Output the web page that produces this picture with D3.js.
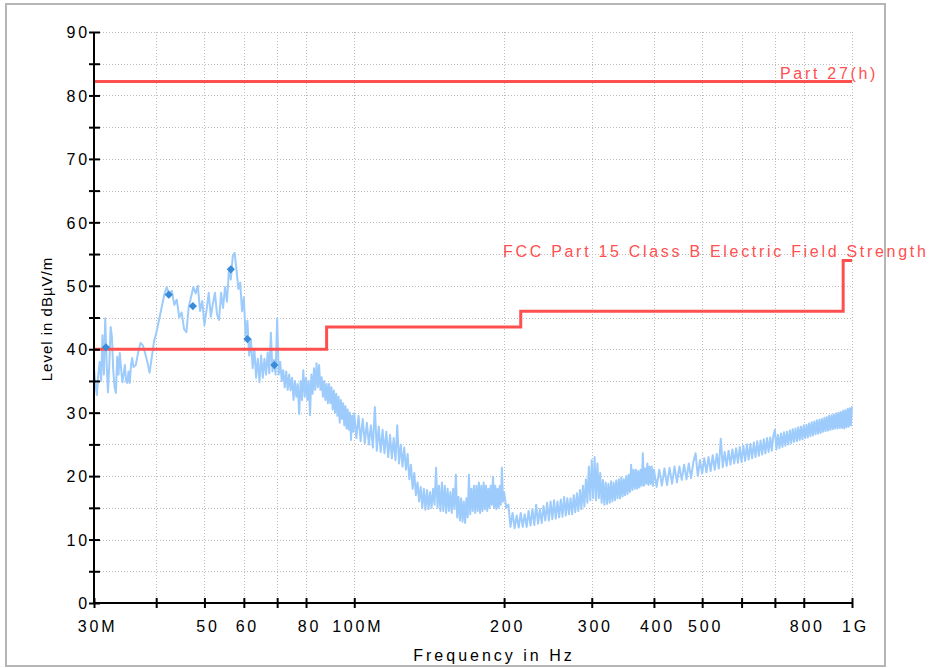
<!DOCTYPE html>
<html>
<head>
<meta charset="utf-8">
<script src="https://cdn.jsdelivr.net/npm/d3@7"></script>
<style>
  html, body { margin: 0; padding: 0; background: #ffffff; }
  svg { display: block; font-family: "Liberation Sans", Arial, Helvetica, sans-serif; }
</style>
</head>
<body>
<svg id="chart" width="932" height="668"></svg>
<script>
// ---- Measured field strength sweep (MHz, dBµV/m) ----
const traceFreq = [
  // 30 - 60 MHz
  30.0,30.2,30.4,30.6,30.8,31.0,31.2,31.4,31.6,31.8,
  32.0,32.2,32.4,32.6,32.8,33.0,33.2,33.4,33.6,33.8,
  34.0,34.2,34.4,34.6,34.8,35.0,35.2,35.4,35.6,35.8,
  36.0,36.4,36.8,37.2,37.6,38.0,38.4,38.8,39.2,39.6,
  40.0,40.5,41.0,41.5,42.0,42.5,43.0,43.5,44.0,44.5,
  45.0,45.5,46.0,46.5,47.0,47.5,48.0,48.5,49.0,49.5,
  50.0,50.5,51.0,51.5,52.0,52.5,53.0,53.5,54.0,54.5,
  55.0,55.5,56.0,56.5,57.0,57.5,58.0,58.5,59.0,59.5,
  // 60 - 100 MHz
  60,60.5,61,61.5,62,62.5,63,63.5,64,64.5,
  65,65.5,66,66.5,67,67.5,68,68.5,69,69.5,
  70,70.5,71,71.5,72,72.5,73,73.5,74,74.5,
  75,75.5,76,76.5,77,77.5,78,78.5,79,79.5,
  80,80.5,81,81.5,82,82.5,83,83.5,84,84.5,
  85,85.5,86,86.5,87,87.5,88,88.5,89,89.5,
  90,90.5,91,91.5,92,92.5,93,93.5,94,94.5,
  95,95.5,96,96.5,97,97.5,98,98.5,99,99.5,
  // 100 - 200 MHz
  100,101,102,103,104,105,106,107,108,109,
  110,111,112,113,114,115,116,117,118,119,
  120,121,122,123,124,125,126,127,128,129,
  130,131,132,133,134,135,136,137,138,139,
  140,141,142,143,144,145,146,147,148,149,
  150,151,152,153,154,155,156,157,158,159,
  160,161,162,163,164,165,166,167,168,169,
  170,171,172,173,174,175,176,177,178,179,
  180,181,182,183,184,185,186,187,188,189,
  190,191,192,193,194,195,196,197,198,199,
  // 200 - 400 MHz
  200,202,204,206,208,210,212,214,216,218,
  220,222,224,226,228,230,232,234,236,238,
  240,242,244,246,248,250,252,254,256,258,
  260,262,264,266,268,270,272,274,276,278,
  280,282,284,286,288,290,292,294,296,298,
  300,302,304,306,308,310,312,314,316,318,
  320,322,324,326,328,330,332,334,336,338,
  340,342,344,346,348,350,352,354,356,358,
  360,362,364,366,368,370,372,374,376,378,
  380,382,384,386,388,390,392,394,396,398,
  // 400 - 1000 MHz
  400,405,410,415,420,425,430,435,440,445,
  450,455,460,465,470,475,480,485,490,495,
  500,505,510,515,520,525,530,535,540,545,
  550,555,560,565,570,575,580,585,590,595,
  600,605,610,615,620,625,630,635,640,645,
  650,655,660,665,670,675,680,685,690,695,
  700,705,710,715,720,725,730,735,740,745,
  750,755,760,765,770,775,780,785,790,795,
  800,805,810,815,820,825,830,835,840,845,
  850,855,860,865,870,875,880,885,890,895,
  900,905,910,915,920,925,930,935,940,945,
  950,955,960,965,970,975,980,985,990,995,
  1000
];
const traceLevel = [
  // 30 - 60 MHz
  37.0,34.5,32.8,36.0,38.0,35.0,42.2,36.0,44.9,38.0,
  33.2,37.5,43.5,41.9,36.5,34.0,33.1,38.8,36.0,39.4,
  37.0,34.8,36.0,37.5,35.0,34.7,36.5,34.7,37.5,38.6,
  37.2,37.5,39.5,41.0,40.6,39.4,38.0,36.3,38.8,41.2,
  42.5,44.5,46.5,48.5,49.8,48.6,49.2,47.0,47.8,45.0,
  45.8,43.2,42.7,46.7,48.2,49.8,48.8,50.0,46.0,47.6,
  43.8,46.2,48.9,45.1,47.2,48.9,45.5,44.6,48.9,46.5,
  49.8,47.5,52.5,51.0,54.6,55.2,52.5,49.5,50.5,46.0,
  // 60 - 100 MHz
  48.2,42.0,44.5,39.0,41.5,37.0,40.0,35.5,38.5,34.8,
  39.0,35.5,38.5,36.0,39.5,36.2,42.6,36.5,38.3,36.0,
  44.9,36.0,38.0,35.0,36.7,34.0,36.5,33.6,36.0,33.5,
  35.5,32.0,35.0,32.5,34.5,29.8,35.0,32.0,36.7,32.5,
  35.5,32.0,35.0,29.6,36.0,33.0,37.0,33.6,37.8,34.0,
  37.5,33.6,35.6,32.5,35.0,32.0,34.5,31.5,34.5,31.5,
  34.0,30.5,33.5,30.0,33.0,29.5,32.5,28.4,32.0,29.0,
  31.5,28.0,31.0,27.5,30.5,27.3,30.0,25.7,29.5,27.0,
  // 100 - 200 MHz
  29.9,26.0,29.5,25.5,29.0,25.2,28.4,25.0,28.0,24.5,
  30.9,24.0,27.8,23.8,27.3,23.6,27.0,23.0,26.5,22.8,
  26.0,22.5,28.0,22.0,25.0,21.5,24.5,21.0,23.5,19.5,
  21.8,18.0,20.5,17.0,19.0,16.0,18.3,15.0,18.0,14.7,
  17.8,14.8,17.5,15.0,18.0,15.5,21.3,15.0,18.5,14.5,
  19.0,14.5,18.5,14.2,18.0,14.5,17.5,14.2,18.0,14.8,
  20.2,13.5,16.7,13.0,16.5,12.8,16.0,12.6,16.5,13.5,
  20.2,14.0,18.0,14.5,18.5,14.2,18.5,14.5,19.0,14.2,
  18.5,14.5,19.0,14.8,18.5,14.5,18.0,15.0,18.5,15.5,
  19.9,15.0,18.5,14.8,18.0,15.0,18.5,15.5,21.3,16.0,
  // 200 - 400 MHz
  17.5,15.0,15.5,12.0,14.2,11.8,13.8,11.9,14.2,12.0,
  14.0,12.0,14.5,12.2,14.8,12.3,15.5,12.5,14.8,12.6,
  15.3,13.0,15.8,13.0,16.0,13.2,16.2,13.3,16.0,13.5,
  16.3,13.6,16.7,13.8,16.5,14.0,16.5,14.0,17.0,14.3,
  17.3,14.5,17.8,14.8,18.5,15.2,19.5,15.8,21.5,16.2,
  22.5,16.5,23.0,16.2,22.0,16.5,20.5,15.8,19.4,15.5,
  19.0,15.6,18.8,15.8,19.2,16.0,19.0,16.2,19.3,16.5,
  19.5,16.5,19.8,16.8,19.5,17.0,20.0,17.2,20.2,17.5,
  21.8,17.8,21.0,18.0,21.0,18.0,20.8,18.2,21.0,18.5,
  23.6,18.5,21.2,18.8,22.0,18.6,21.5,18.8,21.5,18.5,
  // 400 - 1000 MHz
  21.0,18.3,21.0,18.5,21.2,18.6,21.3,18.8,21.5,19.0,
  21.5,19.4,21.8,19.5,22.0,19.7,22.2,23.6,20.0,22.5,
  20.4,22.8,20.6,23.0,20.8,23.3,21.0,23.5,21.2,25.9,
  21.4,23.8,21.6,24.0,21.8,24.2,22.0,24.4,22.1,24.6,
  22.2,24.8,22.4,25.0,22.6,25.1,22.8,25.3,23.0,25.5,
  23.2,25.6,23.4,25.8,23.6,26.0,23.8,26.1,24.0,26.3,
  27.3,24.2,26.5,24.4,26.7,24.6,26.9,24.8,27.0,25.0,
  27.2,25.2,27.4,25.4,27.5,25.5,27.7,25.7,27.8,25.8,
  28.0,26.0,28.1,26.1,28.3,26.3,28.5,26.4,28.6,26.6,
  28.8,26.7,28.9,26.8,29.0,27.0,29.2,27.1,29.3,27.2,
  29.5,27.3,29.6,27.4,29.7,27.5,29.9,27.5,30.0,27.6,
  30.1,27.6,30.3,27.5,30.4,27.7,30.6,27.8,30.7,28.0,
  31.0
];

// ---- Final measurement points ----
const peakFreq  = [31.7, 42.4, 47.4, 56.5, 61.0, 69.1];
const peakLevel = [40.3, 48.6, 46.8, 52.6, 41.6, 37.5];

// ---- Limit lines ----
const fccFreq  = [30, 88, 216, 960, 1000];
const fccLevel = [40, 43.5, 46, 54, 54];
const part27Freq  = [30, 1000];
const part27Level = [82.2, 82.2];
const fccName = "FCC Part 15 Class B Electric Field Strength";
const part27Name = "Part 27(h)";

// ---- Axes ----
const xTickValues = [30, 40, 50, 60, 70, 80, 100, 200, 300, 400, 500, 600, 700, 800, 1000];
const xTickLabels = ["30M", "", "50", "60", "", "80", "100M", "200", "300", "400", "500", "", "", "800", "1G"];
const yTickValues = [0,5,10,15,20,25,30,35,40,45,50,55,60,65,70,75,80,85,90];
const xTitle = "Frequency in Hz";
const yTitle = "Level in dBµV/m";

const colTrace = "#9dcbfb";
const colLimit = "#ff5050";
const colPeak  = "#3a8bd8";
const colGrid  = "#bdbdbd";

const svg = d3.select("#chart");
const L = 94, R = 852, T = 32, B = 603;

const x = d3.scaleLog().domain([30, 1000]).range([L, R]);
const y = d3.scaleLinear().domain([0, 90]).range([B, T]);

// frame
svg.append("rect")
  .attr("x", 6).attr("y", 4).attr("width", 879).attr("height", 662)
  .attr("fill", "#ffffff").attr("stroke", "#b5b5b5").attr("stroke-width", 2);

// grid
const grid = svg.append("g").attr("stroke", colGrid).attr("stroke-width", 1)
  .attr("stroke-dasharray", "1,2").attr("fill", "none");
grid.selectAll("line.h").data(yTickValues.filter(v => v > 0)).join("line")
  .attr("x1", L).attr("x2", R)
  .attr("y1", d => Math.round(y(d)) + 0.5).attr("y2", d => Math.round(y(d)) + 0.5);
grid.selectAll("line.v").data(xTickValues.filter(v => v > 30)).join("line")
  .attr("x1", d => Math.round(x(d)) + 0.5).attr("x2", d => Math.round(x(d)) + 0.5)
  .attr("y1", T).attr("y2", B);

// measured trace
const trace = traceFreq.map((f, i) => [f, traceLevel[i]]);
const line = d3.line().x(d => x(d[0])).y(d => y(d[1]));
svg.append("path").datum(trace)
  .attr("d", line)
  .attr("fill", "none").attr("stroke", colTrace)
  .attr("stroke-width", 2).attr("stroke-linejoin", "round");

// limit lines
const stepLine = d3.line().x(d => x(d[0])).y(d => y(d[1])).curve(d3.curveStepAfter);
svg.append("path").datum(fccFreq.map((f, i) => [f, fccLevel[i]]))
  .attr("d", stepLine).attr("fill", "none").attr("stroke", colLimit).attr("stroke-width", 3);
svg.append("path").datum(part27Freq.map((f, i) => [f, part27Level[i]]))
  .attr("d", stepLine).attr("fill", "none").attr("stroke", colLimit).attr("stroke-width", 3);

// limit names
svg.append("text").attr("x", 503).attr("y", 257)
  .attr("fill", colLimit).attr("font-size", 16).attr("letter-spacing", 2.7)
  .text(fccName);
svg.append("text").attr("x", 780).attr("y", 79)
  .attr("fill", colLimit).attr("font-size", 16).attr("letter-spacing", 2.7)
  .text(part27Name);

// peak markers
const diamond = d3.symbol().type(d3.symbolSquare).size(34);
svg.append("g").selectAll("path").data(peakFreq.map((f, i) => [f, peakLevel[i]])).join("path")
  .attr("d", diamond)
  .attr("transform", d => `translate(${x(d[0])},${y(d[1])}) rotate(45)`)
  .attr("fill", colPeak);

// y axis
const yAxis = svg.append("g").attr("transform", `translate(${L},0)`)
  .call(d3.axisLeft(y).tickValues(yTickValues).tickSize(5)
    .tickFormat(d => d % 10 === 0 ? String(d) : ""));
yAxis.select(".domain").attr("stroke", "#000").attr("stroke-width", 2)
  .attr("d", `M0,${T}V${B}`);
yAxis.selectAll(".tick line").attr("x1", 6).attr("x2", -5)
  .attr("stroke", "#000").attr("stroke-width", 2);
yAxis.selectAll(".tick text").attr("x", -4).attr("dy", "0.36em")
  .attr("font-size", 16).attr("letter-spacing", 2.8)
  .attr("font-family", "'Liberation Sans', Arial, sans-serif").attr("fill", "#000");

// x axis
const xAxis = svg.append("g").attr("transform", `translate(0,${B})`)
  .call(d3.axisBottom(x).tickValues(xTickValues).tickSize(5)
    .tickFormat((d, i) => xTickLabels[i]));
xAxis.select(".domain").attr("stroke", "#000").attr("stroke-width", 2)
  .attr("d", `M${L},0H${R}`);
xAxis.selectAll(".tick line").attr("y1", -5).attr("y2", 5)
  .attr("stroke", "#000").attr("stroke-width", 2);
xAxis.selectAll(".tick text").attr("y", 29).attr("dy", 0).attr("dx", 3)
  .attr("font-size", 16).attr("letter-spacing", 2.8)
  .attr("font-family", "'Liberation Sans', Arial, sans-serif").attr("fill", "#000");

// axis titles
svg.append("text").attr("x", 494).attr("y", 661)
  .attr("text-anchor", "middle").attr("font-size", 16).attr("letter-spacing", 3)
  .attr("fill", "#000").text(xTitle);
svg.append("text").attr("transform", "translate(52,319) rotate(-90)")
  .attr("text-anchor", "middle").attr("font-size", 15).attr("letter-spacing", 1)
  .attr("fill", "#000").text(yTitle);
</script>
</body>
</html>
